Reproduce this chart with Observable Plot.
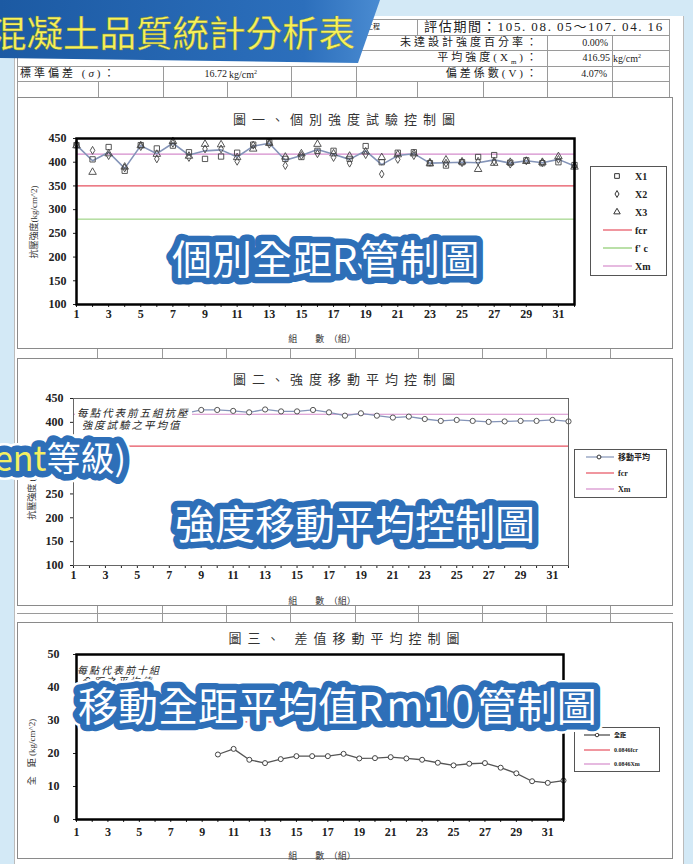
<!DOCTYPE html>
<html><head><meta charset="utf-8">
<script src="https://cdn.jsdelivr.net/npm/d3@7"></script>
<script src="https://cdn.jsdelivr.net/npm/@observablehq/plot@0.6"></script>
<style>
html,body{margin:0;padding:0;}
body{width:693px;height:864px;position:relative;overflow:hidden;background:#d3e9f6;
 font-family:"Liberation Serif","Noto Sans CJK TC",serif;color:#222;}
.abs{position:absolute;}
.t{position:absolute;white-space:nowrap;line-height:1;}
.hl{position:absolute;height:0;border-top:1px solid #9a9a9a;}
.vl{position:absolute;width:0;border-left:1px solid #9a9a9a;}
.panel{position:absolute;border:1px solid #8a8a8a;box-sizing:border-box;background:#fff;}
.ttl{position:absolute;white-space:nowrap;font-size:13px;letter-spacing:6px;transform:translate(-50%,-50%);font-family:"Noto Sans CJK TC",serif;color:#333;}
.yt{position:absolute;white-space:nowrap;font-size:9px;transform:translate(-50%,-50%) rotate(-90deg);color:#333;}
.xt{position:absolute;white-space:nowrap;font-size:9px;transform:translate(-50%,-50%);color:#333;}
</style></head>
<body>
<script>
// ---------------- data ----------------
const groupNo = [1,2,3,4,5,6,7,8,9,10,11,12,13,14,15,16,17,18,19,20,21,22,23,24,25,26,27,28,29,30,31,32];
const xTickLabels = [1,3,5,7,9,11,13,15,17,19,21,23,25,27,29,31];
const yTicksStrength = [100,150,200,250,300,350,400,450];
const yTicksRange = [0,10,20,30,40,50];
// chart 1 : individual specimen strengths (kg/cm2)
const seriesX1 = [436,406,432,382,436,429,435,421,407,412,420,437,442,407,411,424,424,407,434,400,420,421,398,393,400,411,415,399,404,398,400,394];
const seriesX2 = [438,425,414,388,433,407,440,410,428,428,402,436,438,393,414,418,410,398,416,375,406,414,400,398,399,402,402,396,403,399,406,392];
const seriesX3 = [435,379,418,390,435,417,444,413,438,437,410,428,440,411,418,438,418,413,422,410,416,418,397,405,401,385,398,400,402,400,412,390];
const groupAvg = [436,403,421,387,435,418,440,415,424,426,411,434,440,404,414,427,417,406,424,395,414,418,398,399,400,399,405,398,403,399,406,392];
// chart 2 : 5-group moving average
const maGroup = [5,6,7,8,9,10,11,12,13,14,15,16,17,18,19,20,21,22,23,24,25,26,27,28,29,30,31,32];
const maValue = [416,413,420,419,426,426,424,421,427,423,423,426,421,414,419,414,410,412,407,403,405,403,401,402,403,403,405,402];
// chart 3 : 10-group moving average of range
const rmGroup = [10,11,12,13,14,15,16,17,18,19,20,21,22,23,24,25,26,27,28,29,30,31,32];
const rmValue = [19.7,21.4,18.1,17.1,18.3,19.2,19.2,19.2,19.9,18.5,18.6,18.9,18.5,18.1,17.2,16.4,16.9,17.1,15.7,14.0,11.6,11.1,11.8];
// reference levels
const fcr = 350, fc = 280, xm = 416.95;
const rmFcr = 29.6, rmXm = 35.3;   // 0.0846 fcr , 0.0846 Xm

const cRed = "#e6505f", cGreen = "#8ccb6e", cPink = "#d58ccc", cAvg = "#8494b8";
const serif = '"Liberation Serif","Noto Sans CJK TC",serif';

const body = d3.select("body");
const el = (cls, style, html) => body.append("div").attr("class", cls).attr("style", style).html(html || "");

// ---------------- document ----------------
el("abs", "left:14px;top:16px;width:668px;height:860px;background:#fff;border-left:1px solid #bbb;border-right:1px solid #bbb;");
// header table
[19,35,50,66,81].forEach(y => el("hl", `left:17px;top:${y}px;width:652px;`));
el("vl", "left:17px;top:19px;height:78px;");
el("vl", "left:669px;top:19px;height:78px;");
[[355,19,16],[417,19,16],[547,35,31],[612,35,31],[163,66,31],[291,66,31],[356,66,31],[547,66,31],[612,66,31],
 [98,81,16],[227,81,16],[417,81,16],[483,81,16]].forEach(([x,y,h]) => el("vl", `left:${x}px;top:${y}px;height:${h}px;`));
el("t", "left:366px;top:24px;font-size:7px;", "工程");
el("t", "left:424px;top:20px;font-size:13px;letter-spacing:1.7px;", "評估期間：105.&#8201;08.&#8201;05～107.&#8201;04.&#8201;16");
el("t", "right:153px;top:37px;font-size:11px;letter-spacing:3px;", "未達設計強度百分率：");
el("t", "right:85px;top:38px;font-size:10px;", "0.00%");
el("t", "right:153px;top:52px;font-size:11px;letter-spacing:3px;", "平均強度(X<sub style='font-size:7px'>m</sub>)：");
el("t", "right:83px;top:53px;font-size:10px;", "416.95");
el("t", "left:613px;top:53px;font-size:10px;", "kg/cm<sup style='font-size:6px'>2</sup>");
el("t", "right:153px;top:68px;font-size:11px;letter-spacing:3px;", "偏差係數(V)：");
el("t", "right:86px;top:69px;font-size:10px;", "4.07%");
el("t", "left:20px;top:68px;font-size:11px;letter-spacing:3px;", "標準偏差 (<i>σ</i>)：");
el("t", "right:466px;top:69px;font-size:10px;", "16.72");
el("t", "left:229px;top:69px;font-size:10px;", "kg/cm<sup style='font-size:6px'>2</sup>");

// grid lines between panels
[97,162,226,290,355,418,482,546,610].forEach(x => {
  el("vl", `left:${x}px;top:348px;height:10px;`);
  el("vl", `left:${x}px;top:605px;height:17px;`);
});
el("hl", "left:17px;top:613px;width:656px;");

// panels
el("panel", "left:17px;top:97px;width:656px;height:252px;border-width:1.5px;");
el("panel", "left:17px;top:358px;width:656px;height:248px;border-width:1.5px;");
el("panel", "left:17px;top:622px;width:656px;height:237px;border-width:1.5px;");

// ---------------- charts ----------------
const pts = (xs, ys) => xs.map((g, i) => ({g, v: ys[i]}));
const baseStyle = {fontFamily: serif, fontSize: "12px", fontWeight: "bold", color: "#222", background: "none", overflow: "visible"};
const xAxis = (pad) => Plot.axisX({ticks: groupNo, tickSize: 3, tickPadding: pad,
  tickFormat: d => xTickLabels.includes(d) ? String(d) : "", label: null});

function place(node, left, top) {
  body.append("div").attr("class", "abs").attr("style", `left:${left}px;top:${top}px;`).node().appendChild(node);
}

// Chart 1
const chart1 = Plot.plot({
  width: 656, height: 251,
  marginLeft: 59, marginRight: 99, marginTop: 41, marginBottom: 44,
  x: {domain: [1, 32]}, y: {domain: [100, 450]},
  style: baseStyle,
  marks: [
    Plot.ruleY([fc], {stroke: cGreen, strokeWidth: 1}),
    Plot.ruleY([fcr], {stroke: cRed, strokeWidth: 1.2}),
    Plot.ruleY([xm], {stroke: cPink, strokeWidth: 1.2}),
    Plot.line(pts(groupNo, groupAvg), {x: "g", y: "v", stroke: cAvg, strokeWidth: 1.6}),
    Plot.dot(pts(groupNo, seriesX2), {x: "g", y: "v", symbol: "diamond", r: 2.4, stroke: "#444", fill: "none", strokeWidth: 0.9}),
    Plot.dot(pts(groupNo, seriesX3), {x: "g", y: "v", symbol: "triangle", r: 2.8, stroke: "#444", fill: "none", strokeWidth: 0.9}),
    Plot.dot(pts(groupNo, seriesX1), {x: "g", y: "v", symbol: "square", r: 3, stroke: "#444", fill: "none", strokeWidth: 0.9}),
    Plot.axisY({ticks: yTicksStrength, tickSize: 3, tickPadding: 7, label: null}),
    xAxis(2),
    Plot.frame({stroke: "#000", strokeWidth: 2.5})
  ]
});
place(chart1, 17, 97);

// Chart 2
const chart2 = Plot.plot({
  width: 656, height: 247,
  marginLeft: 56, marginRight: 105, marginTop: 40, marginBottom: 40,
  x: {domain: [1, 32]}, y: {domain: [100, 450]},
  style: baseStyle,
  marks: [
    Plot.ruleY([fcr], {stroke: cRed, strokeWidth: 1.2}),
    Plot.ruleY([xm], {stroke: cPink, strokeWidth: 1.2}),
    Plot.line(pts(maGroup, maValue), {x: "g", y: "v", stroke: cAvg, strokeWidth: 1.3}),
    Plot.dot(pts(maGroup, maValue), {x: "g", y: "v", r: 2.6, stroke: "#555", fill: "#fff", strokeWidth: 1}),
    Plot.axisY({ticks: yTicksStrength, tickSize: 3, tickPadding: 7, label: null}),
    xAxis(2),
    Plot.frame({stroke: "#666", strokeWidth: 1})
  ]
});
place(chart2, 17, 358);

// Chart 3
const chart3 = Plot.plot({
  width: 656, height: 236,
  marginLeft: 59, marginRight: 110, marginTop: 32, marginBottom: 39,
  x: {domain: [1, 32]}, y: {domain: [0, 50]},
  style: baseStyle,
  marks: [
    Plot.ruleY([rmFcr], {stroke: cRed, strokeWidth: 1.2}),
    Plot.ruleY([rmXm], {stroke: cPink, strokeWidth: 1.2}),
    Plot.line(pts(rmGroup, rmValue), {x: "g", y: "v", stroke: "#555", strokeWidth: 1.3}),
    Plot.dot(pts(rmGroup, rmValue), {x: "g", y: "v", r: 2.5, stroke: "#444", fill: "#fff", strokeWidth: 1}),
    Plot.axisY({ticks: yTicksRange, tickSize: 3, tickPadding: 14, label: null}),
    xAxis(5),
    Plot.frame({stroke: "#000", strokeWidth: 2.5})
  ]
});
place(chart3, 17, 622);

// titles & axis titles
el("ttl", "left:347px;top:118px;", "圖一、個別強度試驗控制圖");
el("ttl", "left:347px;top:378px;", "圖二、強度移動平均控制圖");
el("ttl", "left:347px;top:637px;", "圖三、 差值移動平均控制圖");
el("yt", "left:33px;top:222px;", "抗壓強度(kg/cm^2)");
el("yt", "left:31px;top:482px;", "抗壓強度 (kg/cm^2)");
el("yt", "left:31px;top:752px;", "全　距 (kg/cm^2)");
el("xt", "left:322px;top:338px;", "組　　數　（組）");
el("xt", "left:322px;top:600px;", "組　　數　（組）");
el("xt", "left:322px;top:855px;", "組　　數　（組）");

// annotations inside charts
el("t", "left:75px;top:407px;font-size:10.5px;letter-spacing:2px;font-style:italic;background:#fff;padding:1px 2px;line-height:12px;",
   "每點代表前五組抗壓<br>&nbsp;強度試驗之平均值");
el("t", "left:77px;top:665px;font-size:10px;letter-spacing:2px;font-style:italic;line-height:11px;",
   "每點代表前十組<br>&nbsp;全距之平均值");

// ---------------- legends ----------------
function legend(left, top, w, h, items, opt) {
  const svg = body.append("svg").attr("class", "abs").attr("style", `left:${left}px;top:${top}px;`)
    .attr("width", w).attr("height", h);
  svg.append("rect").attr("x", 0.5).attr("y", 0.5).attr("width", w - 1).attr("height", h - 1)
    .attr("fill", "#fff").attr("stroke", "#555");
  items.forEach(it => {
    const g = svg.append("g");
    if (it.line) g.append("line").attr("x1", opt.l1).attr("x2", opt.l2).attr("y1", it.y).attr("y2", it.y)
      .attr("stroke", it.color).attr("stroke-width", 1.2);
    if (it.sym) g.append("path").attr("transform", `translate(${opt.mx},${it.y})`)
      .attr("d", d3.symbol(it.sym, it.size || 22)()).attr("fill", it.fill || "none").attr("stroke", "#333");
    g.append("text").attr("x", opt.tx).attr("y", it.y).attr("dy", "0.35em")
      .attr("font-size", opt.fs).attr("font-family", serif).attr("font-weight", "bold").attr("fill", "#222").text(it.label);
  });
}
legend(590, 166, 77, 110, [
  {label: "X1", sym: d3.symbolSquare, y: 10},
  {label: "X2", sym: d3.symbolDiamond, size: 14, y: 28},
  {label: "X3", sym: d3.symbolTriangle, size: 18, y: 46},
  {label: "fcr", line: true, color: cRed, y: 64},
  {label: "f' c", line: true, color: cGreen, y: 82},
  {label: "Xm", line: true, color: cPink, y: 100}
], {l1: 13, l2: 42, mx: 27, tx: 45, fs: 10});
legend(574, 449, 93, 49, [
  {label: "移動平均", line: true, color: cAvg, sym: d3.symbolCircle, size: 12, fill: "#fff", y: 8},
  {label: "fcr", line: true, color: cRed, y: 24},
  {label: "Xm", line: true, color: cPink, y: 40}
], {l1: 12, l2: 40, mx: 25, tx: 44, fs: 8});
legend(574, 727, 86, 45, [
  {label: "全距", line: true, color: "#444", sym: d3.symbolCircle, size: 10, fill: "#fff", y: 8},
  {label: "0.0846fcr", line: true, color: cRed, y: 23},
  {label: "0.0846Xm", line: true, color: cPink, y: 37}
], {l1: 10, l2: 36, mx: 23, tx: 40, fs: 6});

// ---------------- overlays ----------------
const ov = body.append("svg").attr("class", "abs").attr("style", "left:0;top:0;").attr("width", 693).attr("height", 864);
const defs = ov.append("defs");
const grad = defs.append("linearGradient").attr("id", "bnr").attr("x1", 0).attr("x2", 1);
grad.append("stop").attr("offset", 0).attr("stop-color", "#1c5aa3");
grad.append("stop").attr("offset", 0.8).attr("stop-color", "#2c6fbc");
grad.append("stop").attr("offset", 1).attr("stop-color", "#4a8bd1");
ov.append("polygon").attr("points", "0,0 380,0 358,63 0,58").attr("fill", "url(#bnr)");
ov.append("text").attr("x", -10).attr("y", 31).attr("dominant-baseline", "central")
  .attr("font-family", "Noto Sans CJK TC").attr("font-size", 36.5).attr("fill", "#f7f25a")
  .attr("stroke", "#8a8a30").attr("stroke-width", 0.4).text("混凝土品質統計分析表");

function sticker(x, y, size, parts, anchor) {
  const layers = [["#ffffff", 18], ["#2e6fb8", 13], [null, 0]];
  layers.forEach(([stroke, sw]) => {
    const t = ov.append("text").attr("x", x).attr("y", y).attr("dominant-baseline", "central")
      .attr("text-anchor", anchor || "start")
      .attr("font-family", '"Noto Sans CJK TC",sans-serif').attr("font-size", size);
    if (stroke) t.attr("stroke", stroke).attr("stroke-width", sw).attr("stroke-linejoin", "round").attr("fill", stroke);
    parts.forEach(p => {
      const s = t.append("tspan").text(p.text);
      if (p.ls) s.attr("letter-spacing", p.ls);
      if (!stroke) s.attr("fill", p.color || "#fff");
    });
  });
}
sticker(172, 257, 40, [{text: "個別全距"}, {text: "R", ls: 2}, {text: "管制圖"}]);
sticker(-6, 456, 34, [{text: "ent", color: "#f4ef62"}, {text: "等級)"}]);
sticker(175, 522, 40, [{text: "強度移動平均控制圖"}]);
sticker(78, 704, 40, [{text: "移動全距平均值"}, {text: "Rm10", ls: 3}, {text: "管制圖"}]);
</script>
</body></html>
